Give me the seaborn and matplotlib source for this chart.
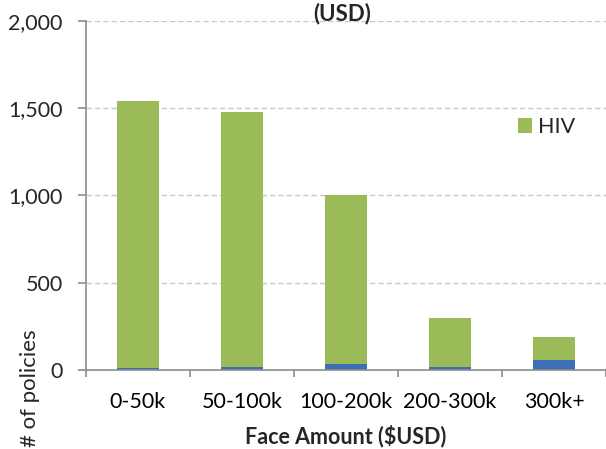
import matplotlib
matplotlib.use("Agg")
import matplotlib.pyplot as plt
import seaborn as sns
import pandas as pd
import numpy as np

categories = ["0-50k", "50-100k", "100-200k", "200-300k", "300k+"]
hiv = [1527, 1459, 969, 278, 129]
other = [13, 19, 34, 19, 59]
yticks = [0, 500, 1000, 1500, 2000]

sns.set_theme(style="white")
plt.rcParams['font.family'] = ['Lato', 'DejaVu Sans']

df = pd.DataFrame({"cat": categories, "hiv": hiv, "other": other})
df["total"] = df["hiv"] + df["other"]

fig = plt.figure(figsize=(6.06, 4.49), dpi=100)
W, H = 606, 449
ax_left, ax_bottom, ax_top, ax_w = 86, 370, 20.7, 520
ax = fig.add_axes([ax_left / W, 1 - ax_bottom / H, ax_w / W, (ax_bottom - ax_top) / H])

sns.barplot(data=df, x="cat", y="total", color="#9BBB59", saturation=1,
            width=0.41, ax=ax, label="HIV", linewidth=0, edgecolor="none")
sns.barplot(data=df, x="cat", y="other", color="#3D6FB6", saturation=1,
            width=0.41, ax=ax, linewidth=0, edgecolor="none")

ax.set_xlim(-0.5, 4.45)
ax.set_ylim(0, 2000)
ax.set_yticks(yticks)
ax.set_yticklabels([f"{v:,}" for v in yticks])
ax.yaxis.grid(True, linestyle=(0, (4, 2)), color="#C8C8C8", linewidth=1)
ax.set_axisbelow(True)
for s in ["top", "right"]:
    ax.spines[s].set_visible(False)
for s in ["left", "bottom"]:
    ax.spines[s].set_color("#8C8C8C")
    ax.spines[s].set_linewidth(1.2)

ax.tick_params(axis="x", which="major", length=0, pad=16, labelsize=15.5, colors="black")
ax.set_xticks(np.arange(-0.5, 4.6, 1.0), minor=True)
ax.tick_params(axis="x", which="minor", bottom=True, length=5, width=1.2,
               color="#8C8C8C", direction="out")
ax.tick_params(axis="y", length=5.8, width=1.2, color="#8C8C8C", direction="out",
               left=True, labelsize=15.5, pad=11)

ax.set_xlabel("Face Amount ($USD)", fontsize=15.5, fontweight="bold", labelpad=9)
ax.set_ylabel("")
fig.text(30 / W, 1 - 388 / H, "# of policies", rotation=90, fontsize=16,
         ha="center", va="center")
fig.text(342 / W, 1 - 14 / H, "(USD)", fontsize=16, fontweight="bold",
         ha="center", va="center")

ax.legend(loc="center left",
          bbox_to_anchor=((518 - ax_left) / ax_w, (ax_bottom - 127) / (ax_bottom - ax_top)),
          frameon=False, fontsize=15.5, handlelength=0.65, handleheight=0.65,
          handletextpad=0.3, borderpad=0, borderaxespad=0)

fig.savefig("out.png", dpi=100)
